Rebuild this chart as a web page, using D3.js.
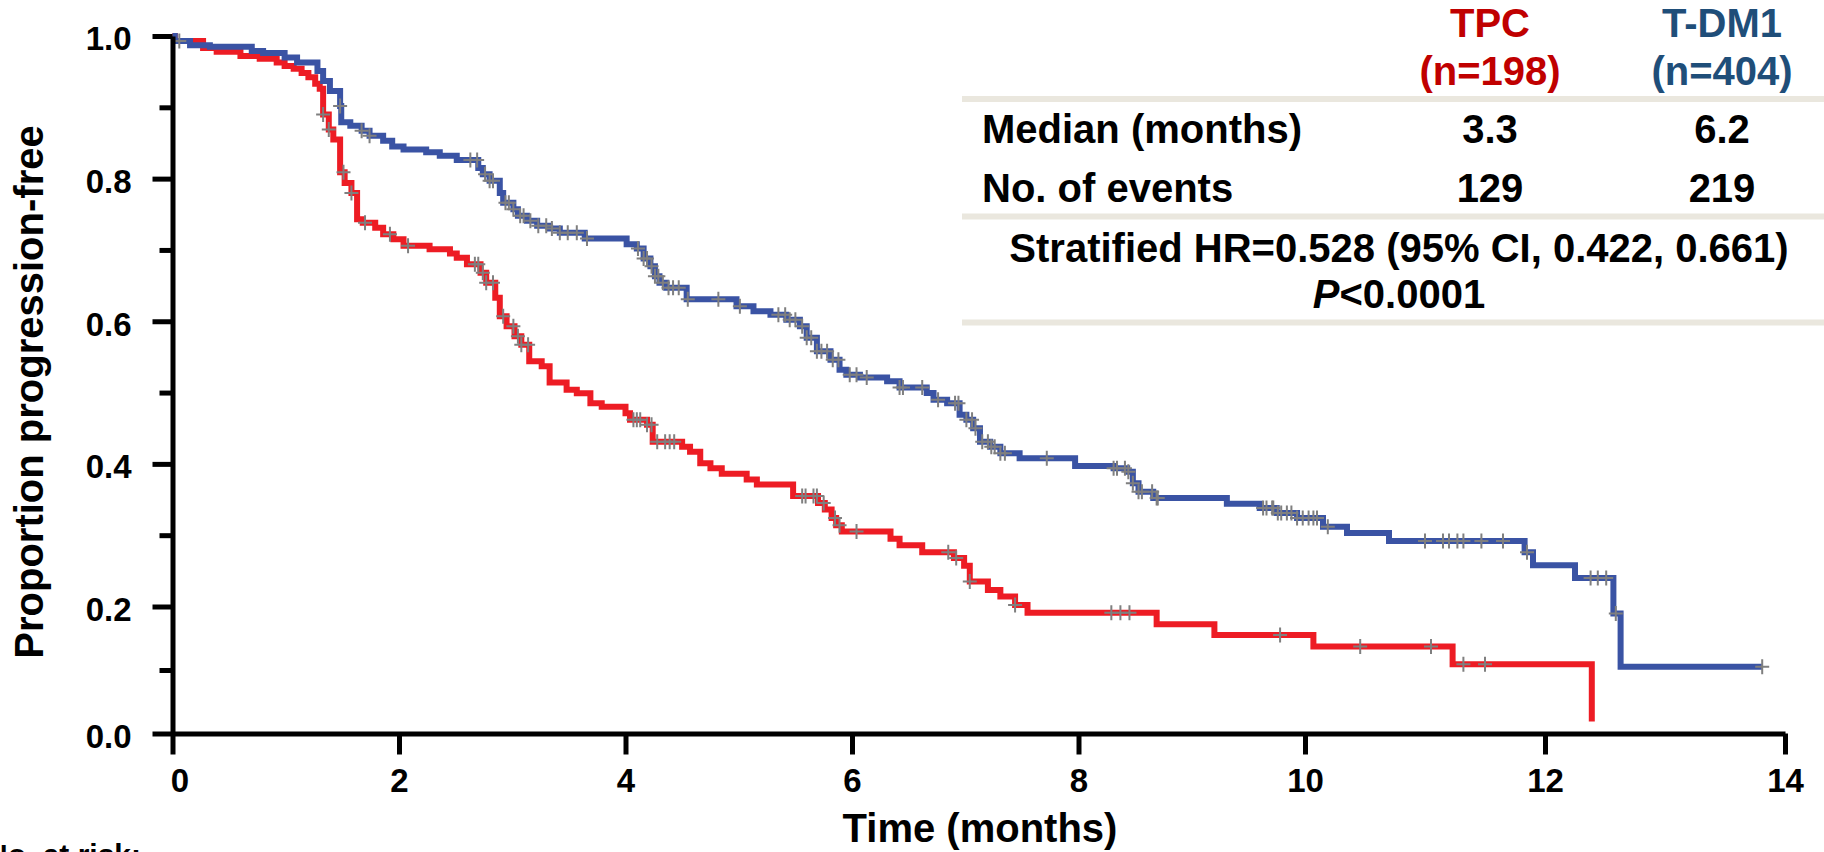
<!DOCTYPE html>
<html>
<head>
<meta charset="utf-8">
<script src="https://cdn.jsdelivr.net/npm/d3@7"></script>
<style>
  html, body { margin: 0; padding: 0; background: #ffffff; }
  svg { display: block; }
  text { font-family: "Liberation Sans", Arial, Helvetica, sans-serif; font-weight: bold; }
</style>
</head>
<body>
<svg id="chart" width="1824" height="852"></svg>
<script>
// ---------------- DATA ----------------
const xTickValues = [0, 2, 4, 6, 8, 10, 12, 14];
const yMajorTicks = [0.0, 0.2, 0.4, 0.6, 0.8, 1.0];
const yMinorTicks = [0.1, 0.3, 0.5, 0.7, 0.9];

// T-DM1 (n=404) Kaplan-Meier steps: time (months) and survival after the step
const tdm1Times = [0, 0.02, 0.155, 0.33, 0.70, 0.80, 0.99, 1.10, 1.28, 1.33, 1.39, 1.48, 1.49, 1.57, 1.67, 1.74, 1.86, 1.94, 2.04, 2.24, 2.36, 2.51, 2.70, 2.74, 2.80, 2.89, 2.92, 3.01, 3.05, 3.13, 3.22, 3.33, 3.42, 3.64, 4.01, 4.10, 4.16, 4.22, 4.26, 4.30, 4.36, 4.54, 4.98, 5.13, 5.28, 5.42, 5.54, 5.60, 5.69, 5.81, 5.89, 5.95, 6.07, 6.31, 6.42, 6.66, 6.72, 6.84, 6.95, 7.01, 7.07, 7.13, 7.22, 7.31, 7.48, 7.97, 8.31, 8.43, 8.48, 8.53, 8.66, 9.31, 9.60, 9.75, 9.93, 10.15, 10.35, 10.70, 11.83, 11.90, 12.25, 12.57, 12.63, 13.81];
const tdm1Surv  = [1.0, 0.993, 0.987, 0.985, 0.979, 0.976, 0.970, 0.963, 0.951, 0.937, 0.923, 0.902, 0.879, 0.874, 0.867, 0.860, 0.853, 0.845, 0.841, 0.837, 0.832, 0.826, 0.815, 0.806, 0.797, 0.780, 0.766, 0.757, 0.748, 0.741, 0.734, 0.730, 0.724, 0.716, 0.708, 0.702, 0.688, 0.677, 0.663, 0.654, 0.647, 0.631, 0.621, 0.614, 0.609, 0.602, 0.593, 0.577, 0.558, 0.546, 0.532, 0.525, 0.521, 0.516, 0.507, 0.4995, 0.490, 0.485, 0.469, 0.462, 0.450, 0.431, 0.424, 0.415, 0.408, 0.397, 0.394, 0.389, 0.373, 0.361, 0.352, 0.344, 0.338, 0.331, 0.324, 0.312, 0.303, 0.292, 0.276, 0.258, 0.240, 0.189, 0.105, 0.105];
const tdm1Censored = [0.06, 1.48, 1.67, 1.74, 2.63, 2.69, 2.76, 2.80, 2.83, 2.94, 2.97, 3.01, 3.07, 3.10, 3.16, 3.23, 3.30, 3.35, 3.42, 3.49, 3.57, 3.66, 4.11, 4.16, 4.19, 4.23, 4.26, 4.29, 4.33, 4.38, 4.42, 4.47, 4.55, 4.82, 5.01, 5.35, 5.41, 5.45, 5.50, 5.56, 5.60, 5.64, 5.69, 5.73, 5.78, 5.83, 5.88, 5.98, 6.04, 6.13, 6.42, 6.45, 6.62, 6.76, 6.91, 6.94, 7.01, 7.06, 7.09, 7.15, 7.20, 7.23, 7.26, 7.31, 7.35, 7.72, 8.31, 8.34, 8.41, 8.44, 8.48, 8.53, 8.56, 8.65, 8.69, 8.70, 9.63, 9.66, 9.71, 9.72, 9.76, 9.79, 9.84, 9.88, 9.93, 9.98, 10.03, 10.07, 10.10, 10.19, 11.00, 11.15, 11.20, 11.27, 11.32, 11.47, 11.65, 11.85, 12.38, 12.44, 12.51, 12.59, 13.81];

// TPC (n=198)
const tpcTimes = [0, 0.02, 0.27, 0.39, 0.60, 0.77, 0.92, 0.99, 1.07, 1.14, 1.20, 1.26, 1.30, 1.33, 1.38, 1.42, 1.48, 1.52, 1.58, 1.63, 1.68, 1.79, 1.86, 1.95, 2.04, 2.27, 2.45, 2.51, 2.60, 2.72, 2.77, 2.85, 2.89, 2.95, 3.02, 3.08, 3.15, 3.26, 3.33, 3.48, 3.57, 3.69, 3.79, 4.00, 4.04, 4.19, 4.24, 4.50, 4.57, 4.66, 4.75, 4.85, 5.07, 5.16, 5.48, 5.70, 5.76, 5.82, 5.86, 5.91, 6.34, 6.42, 6.62, 6.90, 6.99, 7.04, 7.20, 7.31, 7.44, 7.55, 8.69, 9.20, 10.07, 11.23, 12.39];
const tpcSurv  = [1.0, 0.993, 0.983, 0.978, 0.972, 0.968, 0.963, 0.958, 0.954, 0.948, 0.942, 0.933, 0.926, 0.890, 0.869, 0.855, 0.809, 0.794, 0.780, 0.743, 0.738, 0.731, 0.722, 0.715, 0.706, 0.701, 0.695, 0.689, 0.680, 0.668, 0.654, 0.633, 0.607, 0.593, 0.579, 0.567, 0.544, 0.537, 0.514, 0.504, 0.499, 0.485, 0.480, 0.471, 0.462, 0.455, 0.431, 0.424, 0.417, 0.401, 0.394, 0.386, 0.378, 0.371, 0.355, 0.345, 0.336, 0.324, 0.314, 0.305, 0.295, 0.286, 0.276, 0.268, 0.257, 0.235, 0.223, 0.214, 0.202, 0.190, 0.172, 0.155, 0.137, 0.109, 0.019];
const tpcCensored = [1.33, 1.38, 1.51, 1.58, 1.70, 1.92, 2.08, 2.67, 2.70, 2.74, 2.77, 2.83, 2.92, 3.01, 3.05, 3.08, 3.14, 4.07, 4.10, 4.13, 4.19, 4.23, 4.28, 4.35, 4.39, 4.43, 5.56, 5.59, 5.66, 5.69, 5.75, 5.85, 5.89, 6.04, 6.85, 6.92, 7.04, 7.44, 8.29, 8.37, 8.45, 9.78, 10.46, 11.05, 11.32, 11.50];

// Table
const armNames = ["TPC", "T-DM1"];
const armN = ["(n=198)", "(n=404)"];
const rowLabels = ["Median (months)", "No. of events"];
const medians = ["3.3", "6.2"];
const events = ["129", "219"];
const hrText = "Stratified HR=0.528 (95% CI, 0.422, 0.661)";
const pLabel = "P";
const pValue = "<0.0001";

// ---------------- STYLE ----------------
const RED = "#ED1C24", BLUE = "#3A53A4", GRAY = "#7f7f7f";
const HEAD_COLORS = ["#C00000", "#1F4E79"];
const RULE = "#EAE7DE";

const svg = d3.select("#chart");

const x = d3.scaleLinear().domain([0, 10, 14]).range([172.5, 1305, 1785]);
const y = d3.scaleLinear().domain([0, 0.2, 1]).range([733.5, 606.5, 36]);

// ---------------- CURVES ----------------
function stepAt(times, surv, t) {
  let s = surv[0];
  for (let i = 0; i < times.length; i++) { if (times[i] <= t) s = surv[i]; else break; }
  return s;
}

const line = d3.line().x(d => x(d[0])).y(d => y(d[1])).curve(d3.curveStepAfter);

const series = [
  { times: tpcTimes, surv: tpcSurv, cens: tpcCensored, color: RED },
  { times: tdm1Times, surv: tdm1Surv, cens: tdm1Censored, color: BLUE }
];

const gCurves = svg.append("g");
series.forEach(s => {
  const pts = s.times.map((t, i) => [t, s.surv[i]]);
  gCurves.append("path")
    .attr("d", line(pts))
    .attr("fill", "none")
    .attr("stroke", s.color)
    .attr("stroke-width", 6)
    .attr("stroke-linejoin", "miter");
});

// censor marks
const gCens = svg.append("g");
series.forEach(s => {
  s.cens.forEach(t => {
    const cx = x(t), cy = y(stepAt(s.times, s.surv, t));
    gCens.append("path")
      .attr("d", `M${cx - 7},${cy}H${cx + 7}M${cx},${cy - 7.5}V${cy + 7.5}`)
      .attr("stroke", GRAY)
      .attr("stroke-width", 2)
      .attr("fill", "none");
  });
});

// ---------------- AXES ----------------
const yAxisMajor = d3.axisLeft(y).tickValues(yMajorTicks).tickSize(20).tickSizeOuter(0)
  .tickPadding(21).tickFormat(d3.format(".1f"));
const gy = svg.append("g").attr("transform", "translate(172.5,0)").call(yAxisMajor);
gy.selectAll("path.domain").attr("stroke", "#000").attr("stroke-width", 5);
gy.selectAll(".tick line").attr("stroke", "#000").attr("stroke-width", 5);
gy.selectAll(".tick text").attr("font-size", 33).attr("fill", "#000").attr("dy", "0.42em")
  .style("font-family", '"Liberation Sans", Arial, sans-serif').style("font-weight", "bold");

const yAxisMinor = d3.axisLeft(y).tickValues(yMinorTicks).tickSize(13).tickSizeOuter(0).tickFormat("");
const gy2 = svg.append("g").attr("transform", "translate(172.5,0)").call(yAxisMinor);
gy2.selectAll("path.domain").remove();
gy2.selectAll(".tick line").attr("stroke", "#000").attr("stroke-width", 5);

const xAxis = d3.axisBottom(x).tickValues(xTickValues).tickSize(21).tickSizeOuter(0).tickPadding(14);
const gx = svg.append("g").attr("transform", "translate(0,733.5)").call(xAxis);
gx.selectAll("path.domain").attr("stroke", "#000").attr("stroke-width", 5);
gx.selectAll(".tick line").attr("stroke", "#000").attr("stroke-width", 5);
gx.selectAll(".tick text").attr("font-size", 33).attr("fill", "#000")
  .style("font-family", '"Liberation Sans", Arial, sans-serif').style("font-weight", "bold");
gx.selectAll(".tick text").filter(d => d === 0).attr("dx", 7);

// axis titles
svg.append("text")
  .attr("transform", "translate(43,392) rotate(-90)")
  .attr("text-anchor", "middle")
  .attr("font-size", 40)
  .text("Proportion progression-free");

svg.append("text")
  .attr("x", 980).attr("y", 842)
  .attr("text-anchor", "middle")
  .attr("font-size", 40)
  .text("Time (months)");

svg.append("text")
  .attr("x", -14).attr("y", 865)
  .attr("font-size", 30)
  .text("No. at risk:");

// ---------------- TABLE ----------------
const colX = [1490, 1722];
const gT = svg.append("g");
armNames.forEach((nm, i) => {
  gT.append("text").attr("x", colX[i]).attr("y", 37).attr("text-anchor", "middle")
    .attr("font-size", 40).attr("fill", HEAD_COLORS[i]).text(nm);
  gT.append("text").attr("x", colX[i]).attr("y", 85).attr("text-anchor", "middle")
    .attr("font-size", 40).attr("fill", HEAD_COLORS[i]).text(armN[i]);
});
[99, 216.5, 322.5].forEach(yy => {
  gT.append("line").attr("x1", 962).attr("x2", 1824).attr("y1", yy).attr("y2", yy)
    .attr("stroke", RULE).attr("stroke-width", 6);
});
const rowY = [143, 202];
const rowVals = [medians, events];
rowLabels.forEach((lab, r) => {
  gT.append("text").attr("x", 982).attr("y", rowY[r]).attr("font-size", 40).attr("fill", "#000").text(lab);
  rowVals[r].forEach((v, i) => {
    gT.append("text").attr("x", colX[i]).attr("y", rowY[r]).attr("text-anchor", "middle")
      .attr("font-size", 40).attr("fill", "#000").text(v);
  });
});
gT.append("text").attr("x", 1399).attr("y", 262).attr("text-anchor", "middle")
  .attr("font-size", 40).attr("fill", "#000").text(hrText);
const pt = gT.append("text").attr("x", 1399).attr("y", 308).attr("text-anchor", "middle")
  .attr("font-size", 40).attr("fill", "#000");
pt.append("tspan").attr("font-style", "italic").text(pLabel);
pt.append("tspan").text(pValue);
</script>
</body>
</html>
